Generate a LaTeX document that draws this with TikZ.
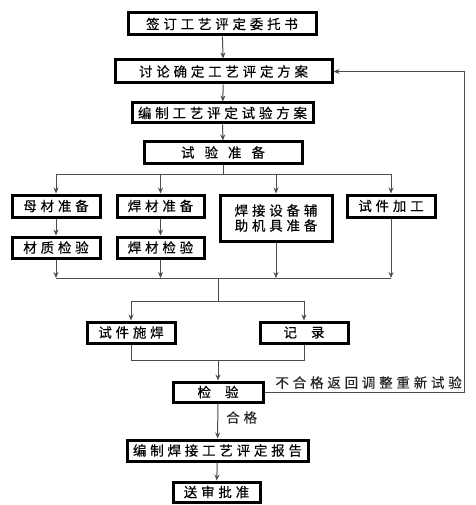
\documentclass[tikz,border=0pt]{standalone}
\usepackage{fontspec}
\setmainfont{Noto Sans CJK SC}
\newfontfamily\cjkls[LetterSpace=28,FakeBold=0.25]{Noto Sans CJK SC}
\usetikzlibrary{arrows.meta}
\tikzset{
  box/.style={draw=black, line width=3pt, fill=white, inner sep=0pt,
    font=\cjkls\fontsize{13.5}{15}\selectfont, text=black},
  conn/.style={draw=black!70, line width=1pt},
  arr/.style={conn, -{Stealth[length=6pt,width=5pt]}},
  lbl/.style={font=\cjkls\fontsize{13.5}{15}\selectfont, text=black!85, inner sep=0pt}
}
\begin{document}
\begin{tikzpicture}[x=1pt,y=-1pt]
\useasboundingbox[fill=white] (0,0) rectangle (475,505);
\node[box, minimum width=188pt, minimum height=22pt] (b1) at (222,24) {签订工艺评定委托书};
\node[box, minimum width=217pt, minimum height=23pt] (b2) at (223.5,71.5) {讨论确定工艺评定方案};
\node[box, minimum width=181pt, minimum height=20pt] (b3) at (222.5,113) {编制工艺评定试验方案};
\node[box, minimum width=158pt, minimum height=21pt] (b4) at (223,152.5) {试\hspace{10pt}验\hspace{10pt}准\hspace{10pt}备};
\node[box, minimum width=88pt, minimum height=22pt] (m1) at (56,206) {母材准备};
\node[box, minimum width=87pt, minimum height=22pt] (m2) at (160.5,206) {焊材准备};
\node[box, minimum width=112pt, minimum height=46pt, align=center] (m3) at (276,218) {焊接设备辅\\助机具准备};
\node[box, minimum width=88pt, minimum height=22pt] (m4) at (391,206) {试件加工};
\node[box, minimum width=88pt, minimum height=21pt] (n1) at (56,247.5) {材质检验};
\node[box, minimum width=87pt, minimum height=21pt] (n2) at (160.5,247.5) {焊材检验};
\node[box, minimum width=88pt, minimum height=21pt] (w1) at (131,332.5) {试件施焊};
\node[box, minimum width=88pt, minimum height=21pt] (w2) at (304,332.5) {记\hspace{14pt}录};
\node[box, minimum width=90pt, minimum height=20pt] (c1) at (218,392) {检\hspace{14pt}验};
\node[box, minimum width=181pt, minimum height=21pt] (r1) at (217.5,450.5) {编制焊接工艺评定报告};
\node[box, minimum width=87pt, minimum height=20pt] (s1) at (216.5,492) {送审批准};

\coordinate (sp1) at (223,174);
\coordinate (j1) at (218,278);
\coordinate (sp2) at (218,301);
\coordinate (j2) at (218,360);
\coordinate (fb) at (464,392);

\draw[arr] (b1) -- (b2);
\draw[arr] (b2) -- (b3);
\draw[arr] (b3) -- (b4);
\draw[conn] (b4.south) -- (sp1);
\draw[conn] (m1.north |- sp1) -- (m4.north |- sp1);
\foreach \n in {m1,m2,m3,m4} \draw[arr] (\n.north |- sp1) -- (\n.north);
\draw[arr] (m1) -- (n1);
\draw[arr] (m2) -- (n2);
\draw[arr] (n1.south) -- (n1.south |- j1);
\draw[arr] (n2.south) -- (n2.south |- j1);
\draw[arr] (m3.south) -- (m3.south |- j1);
\draw[arr] (m4.south) -- (m4.south |- j1);
\draw[conn] (n1.south |- j1) -- (m4.south |- j1);
\draw[conn] (j1) -- (sp2);
\draw[conn] (w1.north |- sp2) -- (w2.north |- sp2);
\draw[arr] (w1.north |- sp2) -- (w1.north);
\draw[arr] (w2.north |- sp2) -- (w2.north);
\draw[conn] (w1.south) -- (w1.south |- j2) -- (w2.south |- j2) -- (w2.south);
\draw[arr] (j2) -- (c1.north);
\draw[arr] (c1.east) -- (fb) -- (fb |- b2.east) -- (b2.east);
\node[lbl, anchor=south east] (t1) at (462,389) {不合格返回调整重新试验};
\draw[arr] (c1) -- node[lbl, right=8pt, pos=0.4] (t2) {合格} (r1);
\draw[arr] (r1) -- (s1);
\end{tikzpicture}
\end{document}
